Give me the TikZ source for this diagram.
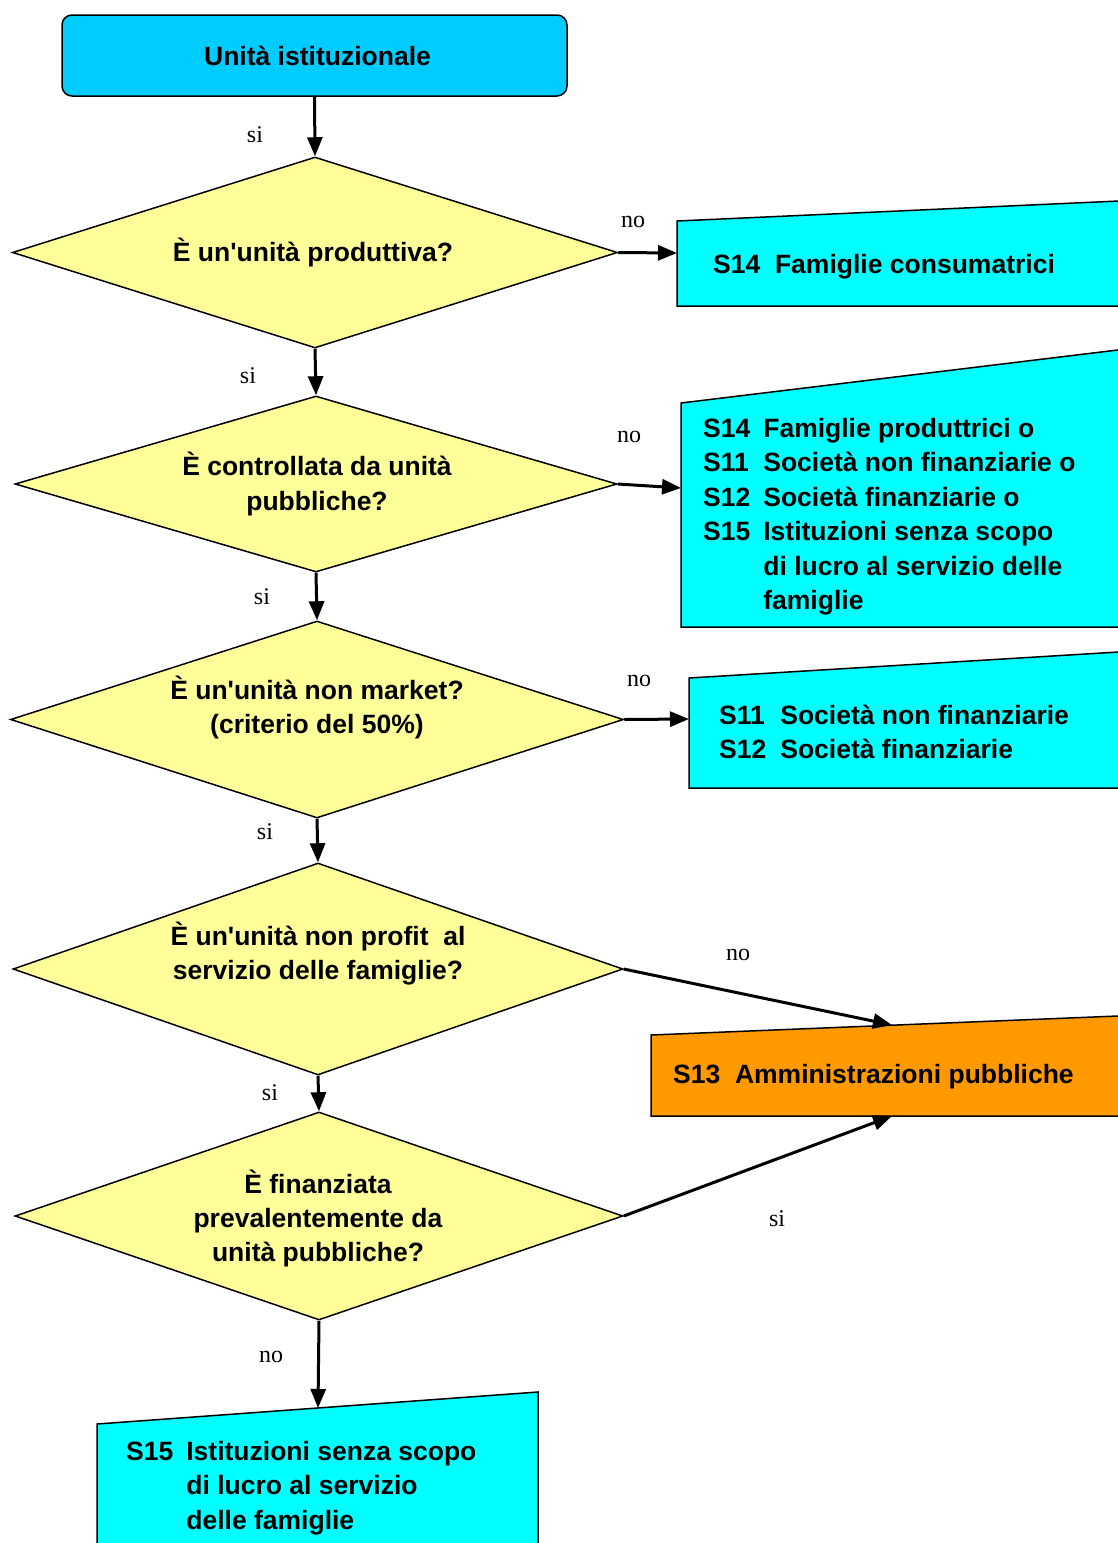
\documentclass[tikz,border=0pt]{standalone}
\usepackage{fontspec}
\setmainfont{Liberation Sans}
\newfontfamily\labfont{Liberation Serif}
\usetikzlibrary{arrows.meta,shapes.geometric}

\definecolor{topcyan}{HTML}{00CCFF}
\definecolor{qyellow}{HTML}{FFFF99}
\definecolor{outcyan}{HTML}{00FFFF}
\definecolor{govorange}{HTML}{FF9900}

\newcommand{\bigbold}{\bfseries\fontsize{26.5}{34.4}\selectfont}
\newcommand{\apos}{\textquotesingle}

\begin{document}
\begin{tikzpicture}[x=1pt,y=-1pt,
  question/.style={diamond, draw, line width=1.5pt, fill=qyellow, inner sep=0pt},
  qtext/.style={align=center, font=\bigbold, inner sep=0pt},
  outbox/.style={draw, line width=1.5pt, fill=outcyan},
  govbox/.style={draw, line width=1.5pt, fill=govorange},
  btext/.style={anchor=base west, font=\bigbold, inner sep=0pt},
  lab/.style={font=\labfont\fontsize{24}{28}\selectfont, inner sep=0pt},
  flow/.style={line width=3pt, -{Triangle[length=19pt,width=15pt]}},
]
\useasboundingbox (0,0) rectangle (1118,1543);
\clip (0,0) rectangle (1118,1543);

% start box
\node[draw, rounded corners=10pt, fill=topcyan, line width=1.5pt,
      minimum width=505pt, minimum height=81pt, font=\bigbold]
      (start) at (314.5,55.5) {\hspace*{6pt}Unità istituzionale};

% decision diamonds
\node[question, minimum width=605pt, minimum height=191pt] (d1) at (315,252.5) {};
\node[question, minimum width=602pt, minimum height=176pt] (d2) at (316,484) {};
\node[question, minimum width=613pt, minimum height=197pt] (d3) at (317,719.5) {};
\node[question, minimum width=610pt, minimum height=212pt] (d4) at (318,969) {};
\node[question, minimum width=608pt, minimum height=208pt] (d5) at (319,1216) {};

\node[qtext] (t1) at (313,252) {È un\apos unità produttiva?};
\node[qtext] (t2) at (317,484) {È controllata da unità\\pubbliche?};
\node[qtext] (t3) at (317,707.5) {È un\apos unità non market?\\(criterio del 50\%)};
\node[qtext] (t4) at (318,953.5) {È un\apos unità non profit\ \ al\\servizio delle famiglie?};
\node[qtext] (t5) at (318,1218.5) {È finanziata\\prevalentemente da\\unità pubbliche?};

% outcome boxes (manual-input shape, slanted top edge)
\draw[outbox] (677,221) -- (1130,200.5) -- (1130,306) -- (677,306) -- cycle;
\coordinate (b1) at (677,253);
\node[btext] (b1t) at (713,273) {S14\ \ Famiglie consumatrici};

\draw[outbox] (681,403) -- (1130,348.5) -- (1130,627) -- (681,627) -- cycle;
\coordinate (b2) at (681,488);
\node[btext] (b2t) at (703,437.5) {\begin{tabular}[t]{@{}l@{\hspace{13pt}}l@{}}
S14 & Famiglie produttrici o\\
S11 & Società non finanziarie o\\
S12 & Società finanziarie o\\
S15 & Istituzioni senza scopo\\
    & di lucro al servizio delle\\
    & famiglie
\end{tabular}};

\draw[outbox] (689,678) -- (1130,651.3) -- (1130,788) -- (689,788) -- cycle;
\coordinate (b3) at (689,719);
\node[btext] (b3t) at (719,724.5) {\begin{tabular}[t]{@{}l@{\hspace{14pt}}l@{}}
S11 & Società non finanziarie\\
S12 & Società finanziarie
\end{tabular}};

\draw[govbox] (651,1035) -- (1130,1015.5) -- (1130,1116) -- (651,1116) -- cycle;
\coordinate (b4top) at (892,1025);
\coordinate (b4bot) at (892,1116);
\node[btext] (b4t) at (673,1083.5) {S13\ \ Amministrazioni pubbliche};

\draw[outbox] (97,1424) -- (538,1392) -- (538,1560) -- (97,1560) -- cycle;
\coordinate (b5) at (318,1408);
\node[btext] (b5t) at (126,1460.5) {\begin{tabular}[t]{@{}l@{\hspace{13pt}}l@{}}
S15 & Istituzioni senza scopo\\
    & di lucro al servizio\\
    & delle famiglie
\end{tabular}};

% connectors
\draw[flow] (start.south) -- (d1.north);
\draw[flow] (d1.east) -- (b1);
\draw[flow] (d1.south) -- (d2.north);
\draw[flow] (d2.east) -- (b2);
\draw[flow] (d2.south) -- (d3.north);
\draw[flow] (d3.east) -- (b3);
\draw[flow] (d3.south) -- (d4.north);
\draw[flow] (d4.east) -- (b4top);
\draw[flow] (d4.south) -- (d5.north);
\draw[flow] (d5.east) -- (b4bot);
\draw[flow] (d5.south) -- (b5);

% branch labels
\node[lab] (l1) at (255,135) {si};
\node[lab] (l2) at (633,222) {no};
\node[lab] (l3) at (248,376) {si};
\node[lab] (l4) at (629,437) {no};
\node[lab] (l5) at (262,597) {si};
\node[lab] (l6) at (639,681) {no};
\node[lab] (l7) at (265,832) {si};
\node[lab] (l8) at (738,955) {no};
\node[lab] (l9) at (270,1093) {si};
\node[lab] (l10) at (777,1219) {si};
\node[lab] (l11) at (271,1357) {no};
\end{tikzpicture}
\end{document}
